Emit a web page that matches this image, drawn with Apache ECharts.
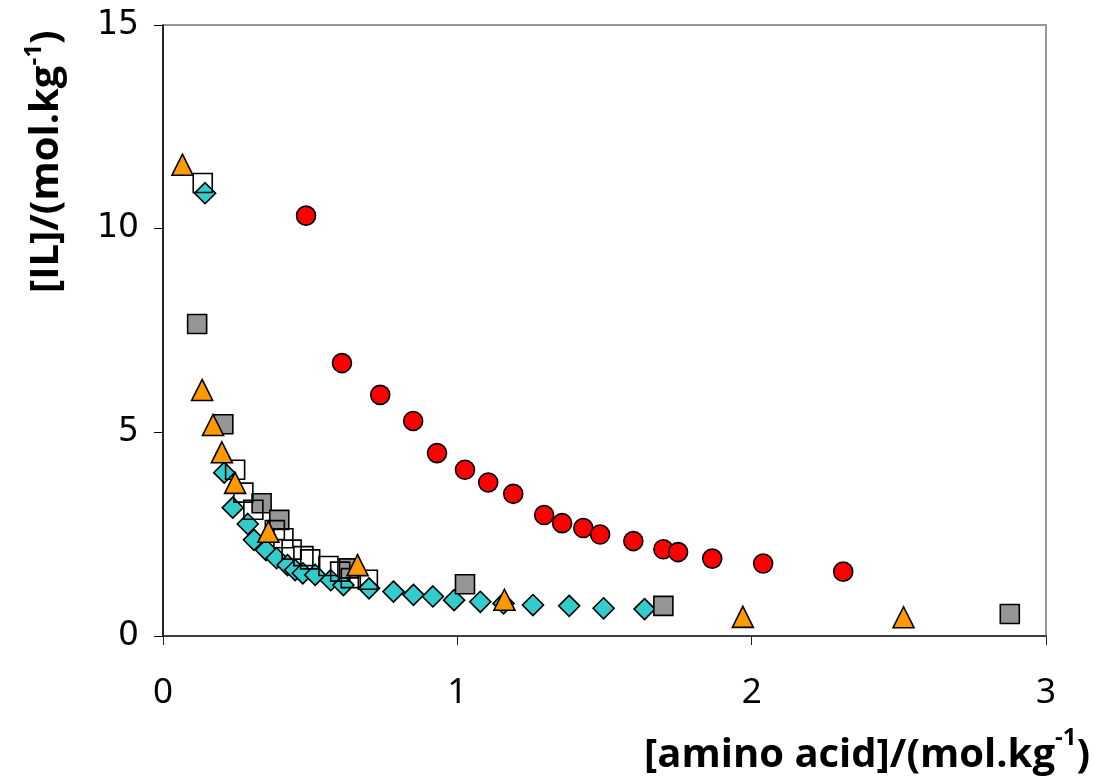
<!DOCTYPE html>
<html>
<head>
<meta charset="utf-8">
<script src="https://cdn.jsdelivr.net/npm/echarts@6/dist/echarts.min.js"></script>
<style>html,body{margin:0;padding:0;background:#fff;}#chart{width:1095px;height:782px;}</style>
</head>
<body>
<div id="chart"></div>
<script>
const xTicks = [0, 1, 2, 3];
const yTicks = [0, 5, 10, 15];

const circleData = [[0.486,10.32],[0.608,6.70],[0.738,5.92],[0.850,5.28],[0.931,4.49],[1.026,4.08],[1.105,3.77],[1.190,3.49],[1.295,2.97],[1.356,2.77],[1.428,2.65],[1.485,2.49],[1.598,2.33],[1.700,2.13],[1.750,2.06],[1.866,1.90],[2.039,1.78],[2.311,1.58]];
const triangleData = [[0.066,11.57],[0.133,6.04],[0.170,5.18],[0.200,4.51],[0.245,3.76],[0.358,2.56],[0.661,1.74],[1.160,0.89],[1.970,0.47],[2.516,0.46]];
const graySquareData = [[0.116,7.66],[0.205,5.20],[0.335,3.26],[0.395,2.85],[0.632,1.66],[1.026,1.27],[1.700,0.74],[2.877,0.54]];
const whiteSquareData = [[0.135,11.12],[0.245,4.08],[0.273,3.52],[0.307,3.10],[0.380,2.60],[0.409,2.40],[0.437,2.12],[0.477,1.96],[0.500,1.88],[0.562,1.72],[0.602,1.58],[0.638,1.42],[0.696,1.38]];
const diamondData = [[0.143,10.87],[0.208,4.01],[0.237,3.15],[0.288,2.75],[0.309,2.36],[0.350,2.11],[0.386,1.91],[0.423,1.74],[0.449,1.62],[0.475,1.54],[0.517,1.50],[0.570,1.37],[0.613,1.25],[0.700,1.17],[0.783,1.09],[0.851,1.01],[0.917,0.97],[0.989,0.88],[1.078,0.84],[1.157,0.80],[1.257,0.76],[1.380,0.74],[1.497,0.68],[1.636,0.66]];

const chart = echarts.init(document.getElementById('chart'));
const border = {borderColor:'#000', borderWidth:1.6, opacity:1};
chart.setOption({
  animation:false,
  backgroundColor:'#fff',
  grid:{left:163, right:49, top:25, bottom:146, show:true, borderColor:'#999', borderWidth:2},
  xAxis:{type:'value', min:xTicks[0], max:xTicks[xTicks.length-1], interval:1,
    axisLine:{show:true, onZero:false, lineStyle:{color:'#222', width:1.5}},
    axisTick:{show:true, length:9, lineStyle:{color:'#222', width:1}},
    axisLabel:{fontFamily:'Liberation Sans Narrow, Noto Sans', fontSize:35, color:'#000', margin:40},
    splitLine:{show:false}},
  yAxis:{type:'value', min:yTicks[0], max:yTicks[yTicks.length-1], interval:5,
    axisLine:{show:true, onZero:false, lineStyle:{color:'#000', width:1.5}},
    axisTick:{show:true, length:9, lineStyle:{color:'#000', width:1}},
    axisLabel:{fontFamily:'DejaVu Sans', fontSize:33, color:'#000', margin:24},
    splitLine:{show:false}},
  graphic:[
    {type:'text', right:5, top:726, style:{
      text:'{a|[amino acid]/(mol.kg}{s|-1}{a|)}',
      rich:{a:{fontFamily:'Open Sans', fontWeight:'bold', fontSize:40, fill:'#000', verticalAlign:'bottom'},
            s:{fontFamily:'Open Sans', fontWeight:'bold', fontSize:24, fill:'#000', verticalAlign:'top', padding:[0,0,26,0]}}}},
    {type:'text', x:22, y:293, rotation:Math.PI/2, style:{
      text:'{a|[IL]/(mol.kg}{s|-1}{a|)}',
      rich:{a:{fontFamily:'Open Sans', fontWeight:'bold', fontSize:40, fill:'#000'},
            s:{fontFamily:'Open Sans', fontWeight:'bold', fontSize:24, fill:'#000', padding:[0,0,26,0]}}}}
  ],
  series:[
    {type:'scatter', name:'diamond', data:diamondData, symbol:'diamond', symbolSize:21, z:2, itemStyle:Object.assign({color:'#33CCCC'}, border)},
    {type:'scatter', name:'gray', data:graySquareData, symbol:'rect', symbolSize:19, z:3, itemStyle:Object.assign({color:'#969696'}, border)},
    {type:'scatter', name:'white', data:whiteSquareData, symbol:'rect', symbolSize:19, z:4, itemStyle:Object.assign({color:'rgba(255,255,255,0)'}, border)},
    {type:'scatter', name:'triangle', data:triangleData, symbol:'triangle', symbolSize:21, z:5, itemStyle:Object.assign({color:'#FF9900'}, border)},
    {type:'scatter', name:'circle', data:circleData, symbol:'circle', symbolSize:19, z:6, itemStyle:Object.assign({color:'#FF0000'}, border)}
  ]
});
</script>
</body>
</html>
